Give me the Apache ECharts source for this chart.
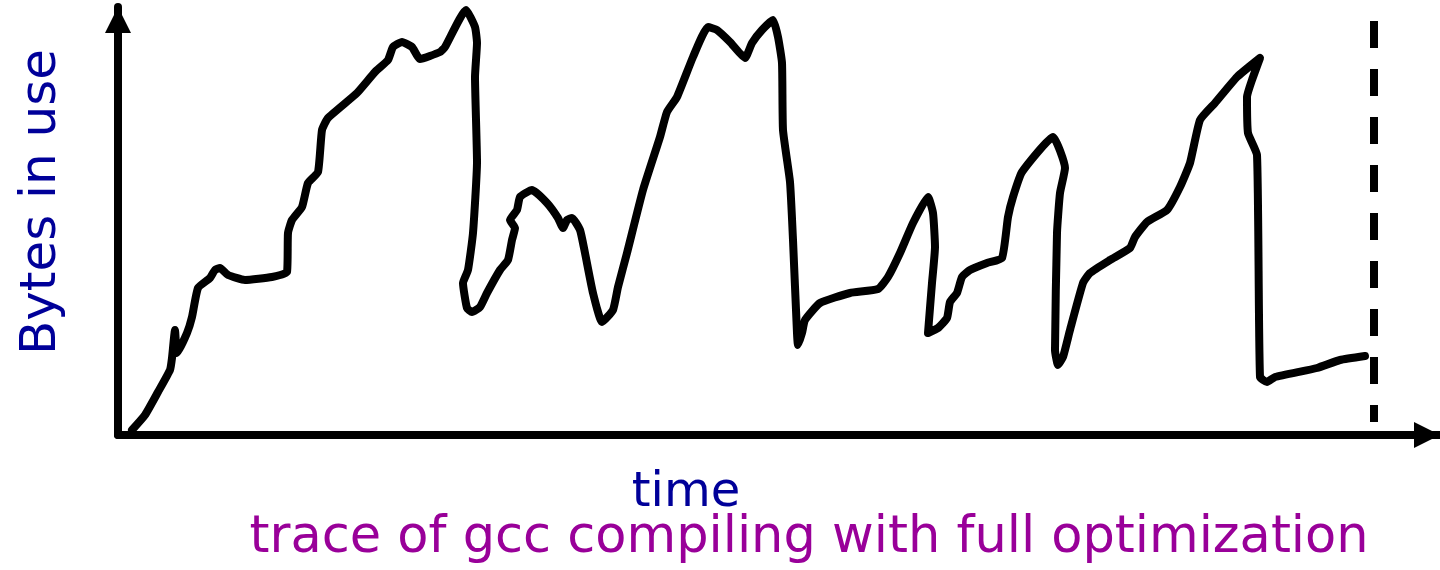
<!DOCTYPE html>
<html>
<head>
<meta charset="utf-8">
<script src="https://cdn.jsdelivr.net/npm/echarts@6/dist/echarts.min.js"></script>
<style>
  html, body { margin: 0; padding: 0; background: #ffffff; }
  #chart { width: 1440px; height: 570px; }
</style>
</head>
<body>
<div id="chart"></div>
<script>
// Time (arbitrary units) and bytes in use (arbitrary units)
const time = [14, 27, 40, 52, 54, 57, 59, 69, 74, 80, 92, 97, 102, 110, 127, 154, 169, 170, 174, 184, 190, 200, 204, 210, 239, 257, 270, 275, 284, 294, 302, 322, 327, 348, 357, 359, 357, 359, 355, 350, 345, 349, 354, 362, 369, 382, 390, 394, 397, 392, 399, 402, 414, 429, 440, 445, 449, 454, 462, 467, 475, 484, 495, 500, 509, 525, 542, 549, 559, 575, 590, 599, 612, 627, 634, 644, 655, 660, 664, 665, 672, 675, 679, 680, 684, 687, 702, 732, 760, 770, 782, 795, 810, 815, 817, 814, 810, 820, 829, 832, 839, 844, 852, 869, 884, 890, 895, 904, 935, 947, 942, 939, 937, 940, 945, 952, 965, 972, 992, 1012, 1017, 1029, 1049, 1062, 1072, 1082, 1097, 1119, 1142, 1134, 1129, 1130, 1139, 1142, 1149, 1157, 1199, 1222, 1247];
const bytesInUse = [5, 20, 43, 65, 77, 105, 82, 102, 118, 147, 157, 165, 167, 160, 155, 158, 163, 202, 215, 228, 252, 263, 305, 317, 342, 363, 375, 388, 393, 388, 376, 383, 388, 425, 408, 392, 358, 273, 202, 165, 152, 127, 123, 128, 142, 165, 175, 195, 207, 215, 225, 238, 245, 232, 217, 207, 215, 217, 205, 182, 142, 113, 125, 148, 182, 245, 298, 323, 338, 378, 408, 405, 393, 377, 392, 405, 415, 398, 372, 305, 253, 195, 102, 90, 102, 115, 132, 142, 146, 158, 182, 212, 238, 222, 188, 152, 102, 107, 117, 133, 142, 158, 165, 172, 177, 218, 238, 263, 298, 267, 242, 202, 85, 70, 78, 105, 152, 162, 175, 187, 198, 213, 225, 248, 272, 315, 332, 358, 377, 355, 338, 302, 280, 58, 53, 58, 67, 75, 79];
// End-of-trace marker (dashed vertical line)
const endMarkerTime = [1256, 1256];
const endMarkerBytes = [414, 13];
// Texts
const yAxisTitle = 'Bytes in use';
const xAxisTitle = 'time';
const caption = 'trace of gcc compiling with full optimization';

const tracePoints = time.map((t, i) => [t, bytesInUse[i]]);
const markerPoints = endMarkerTime.map((t, i) => [t, endMarkerBytes[i]]);

const chart = echarts.init(document.getElementById('chart'), null, { renderer: 'canvas' });

const axisLineCommon = {
  show: true,
  onZero: false,
  symbol: ['none', 'triangle'],
  symbolSize: [26, 26],
  symbolOffset: [0, -13],
  lineStyle: { color: '#000000', width: 8 }
};

chart.setOption({
  animation: false,
  backgroundColor: '#ffffff',
  grid: { left: 118, right: 0, top: 7, bottom: 135, containLabel: false },
  xAxis: {
    type: 'value', min: 0, max: 1322,
    axisLine: axisLineCommon,
    axisTick: { show: false }, axisLabel: { show: false }, splitLine: { show: false }
  },
  yAxis: {
    type: 'value', min: 0, max: 428,
    axisLine: axisLineCommon,
    axisTick: { show: false }, axisLabel: { show: false }, splitLine: { show: false }
  },
  series: [
    {
      type: 'line',
      data: tracePoints,
      symbol: 'none',
      smooth: 0.15,
      clip: false,
      lineStyle: { color: '#000000', width: 8, cap: 'round', join: 'round' }
    },
    {
      type: 'line',
      data: markerPoints,
      symbol: 'none',
      clip: false,
      lineStyle: { color: '#000000', width: 8, type: [27, 21], cap: 'butt' }
    }
  ],
  graphic: [
    {
      type: 'text', x: 42, y: 202, rotation: Math.PI / 2,
      style: { text: yAxisTitle, fill: '#000099', font: '50px "DejaVu Sans"', align: 'center', verticalAlign: 'middle' }
    },
    {
      type: 'text', x: 686, y: 494,
      style: { text: xAxisTitle, fill: '#000099', font: '48px "DejaVu Sans"', align: 'center', verticalAlign: 'middle' }
    },
    {
      type: 'text', x: 809, y: 539,
      style: { text: caption, fill: '#990099', font: '51px "DejaVu Sans"', align: 'center', verticalAlign: 'middle' }
    }
  ]
});
</script>
</body>
</html>
